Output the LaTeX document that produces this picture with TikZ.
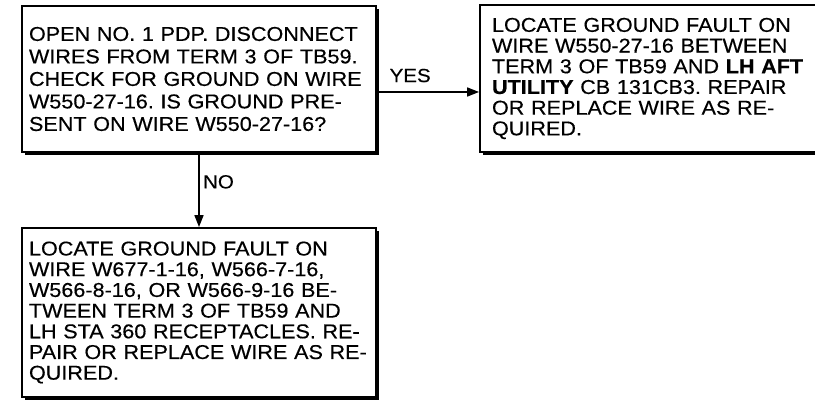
\documentclass[tikz,border=0pt]{standalone}
\usepackage{fontspec}
\setmainfont{Liberation Sans}[FakeStretch=1.08, FakeBold=0.4]
\frenchspacing
\usetikzlibrary{arrows.meta,shadows}

\begin{document}
\begin{tikzpicture}[x=1pt, y=1pt,
    every node/.style={font=\fontsize{20}{20.7}\selectfont},
    stepbox/.style={draw, line width=1.8pt, fill=white, align=left, inner xsep=7pt,
      drop shadow={shadow xshift=3pt, shadow yshift=-3pt, fill=black, opacity=1}},
    branchlabel/.style={font=\fontsize{19}{20}\selectfont},
    flowline/.style={line width=1.5pt, -{Triangle[length=12pt,width=9pt]}}]
  \useasboundingbox (0,0) rectangle (815,401);
  % Question box
  \node[stepbox, text width=340pt, minimum height=146pt, font=\fontsize{20}{22.5}\selectfont]
    (check) at (199,322)
    {OPEN NO. 1 PDP. DISCONNECT\\
     WIRES FROM TERM 3 OF TB59.\\
     CHECK FOR GROUND ON WIRE\\
     W550-27-16. IS GROUND PRE-\\
     SENT ON WIRE W550-27-16?};
  % YES branch (box runs off the right edge)
  \node[stepbox, text width=346pt, inner xsep=12pt, minimum height=147pt] (faultA) at (665,322.5)
    {LOCATE GROUND FAULT ON\\
     WIRE W550-27-16 BETWEEN\\
     TERM 3 OF TB59 AND \textbf{LH AFT}\\
     \textbf{UTILITY} CB 131CB3. REPAIR\\
     OR REPLACE WIRE AS RE-\\
     QUIRED.};
  % NO branch
  \node[stepbox, text width=340pt, minimum height=169pt] (faultB) at (199,88.5)
    {LOCATE GROUND FAULT ON\\
     WIRE W677-1-16, W566-7-16,\\
     W566-8-16, OR W566-9-16 BE-\\
     TWEEN TERM 3 OF TB59 AND\\
     LH STA 360 RECEPTACLES. RE-\\
     PAIR OR REPLACE WIRE AS RE-\\
     QUIRED.};
  % Connectors
  \coordinate (yesfrom) at ([yshift=-13pt]check.east);
  \draw[flowline] (yesfrom) -- (yesfrom -| faultA.west)
    node[branchlabel, pos=0, anchor=south west, inner sep=2pt, xshift=10pt, yshift=7pt] (yes) {YES};
  \draw[flowline] (check.south) -- (faultB.north)
    node[branchlabel, pos=0.39, anchor=west] (no) {NO};
\end{tikzpicture}
\end{document}
